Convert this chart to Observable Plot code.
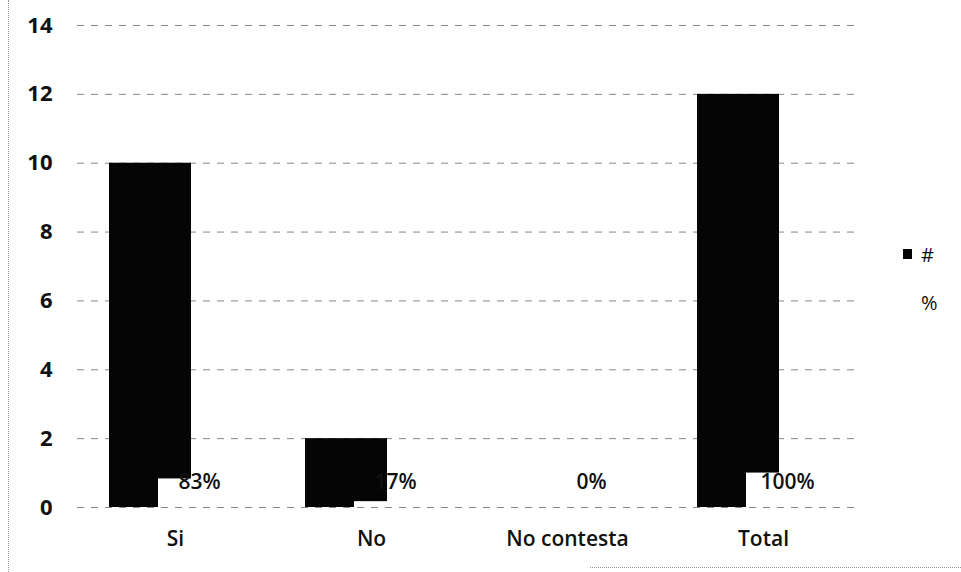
<!DOCTYPE html>
<html>
<head>
<meta charset="utf-8">
<script src="https://cdn.jsdelivr.net/npm/d3@7"></script>
<script src="https://cdn.jsdelivr.net/npm/@observablehq/plot@0.6"></script>
<style>
  html, body { margin: 0; padding: 0; background: #fff; }
  #wrap { position: relative; width: 961px; height: 572px; font-family: "Open Sans", Lato, sans-serif; }
  #legend { position: absolute; left: 903px; top: 241px; font-size: 20px; color: #111; }
  #legend div { display: flex; align-items: center; height: 26px; margin-bottom: 22px; }
  #legend .sw { width: 9px; height: 10px; margin-right: 9px; }
  #bl { position: absolute; left: 8px; top: 0; height: 572px; border-left: 1px dotted #999; }
  #bb { position: absolute; left: 590px; top: 567px; width: 371px; border-top: 1px dotted #999; }
</style>
</head>
<body>
<div id="wrap">
  <div id="chart"></div>
  <div id="legend"></div>
  <div id="bl"></div>
  <div id="bb"></div>
</div>
<script>
const categories = ["Si", "No", "No contesta", "Total"];
const countValues = [10, 2, 0, 12];
const pctValues = [0.83, 0.17, 0, 1.0];
const pctLabels = ["83%", "17%", "0%", "100%"];
const yTicks = [0, 2, 4, 6, 8, 10, 12, 14];
const seriesNames = ["#", "%"];

const rows = categories.map((c, i) => ({cat: c, count: countValues[i], pct: pctValues[i], label: pctLabels[i]}));

const plot = Plot.plot({
  width: 961,
  height: 572,
  marginLeft: 77,
  marginRight: 100,
  marginTop: 25,
  marginBottom: 65,
  style: {fontFamily: "'Open Sans', Lato, sans-serif", fontSize: "21px", color: "#111", background: "#fff"},
  x: {domain: categories, padding: 0, label: null, tickSize: 0, tickPadding: 24},
  y: {domain: [0, 14], ticks: yTicks, label: null, tickSize: 0, tickPadding: 25, tickFormat: d3.format("d")},
  marks: [
    Plot.ruleY(yTicks, {stroke: "#888", strokeDasharray: "7 7", strokeWidth: 1}),
    Plot.barY(rows, {x: "cat", y: "count", fill: "#050505", insetLeft: 32, insetRight: 82}),
    Plot.barY(rows, {x: "cat", y: "pct", fill: "#fff", insetLeft: 81, insetRight: 33}),
    Plot.text(rows, {x: "cat", text: "label", frameAnchor: "bottom", dy: -19, dx: 24, fontSize: 21, fontWeight: 600, fill: "#111"})
  ]
});
plot.querySelectorAll("g[aria-label='y-axis tick label'] text").forEach(t => { t.setAttribute("font-weight", "bold"); t.setAttribute("font-size", "22"); });
plot.querySelectorAll("g[aria-label='x-axis tick label'] text").forEach(t => t.setAttribute("font-weight", "600"));
document.getElementById("chart").appendChild(plot);

const colors = ["#050505", "#fff"];
const legend = document.getElementById("legend");
seriesNames.forEach((s, i) => {
  const row = document.createElement("div");
  const sw = document.createElement("span");
  sw.className = "sw";
  sw.style.background = colors[i];
  const lab = document.createElement("span");
  lab.textContent = s;
  row.appendChild(sw); row.appendChild(lab);
  legend.appendChild(row);
});
</script>
</body>
</html>
